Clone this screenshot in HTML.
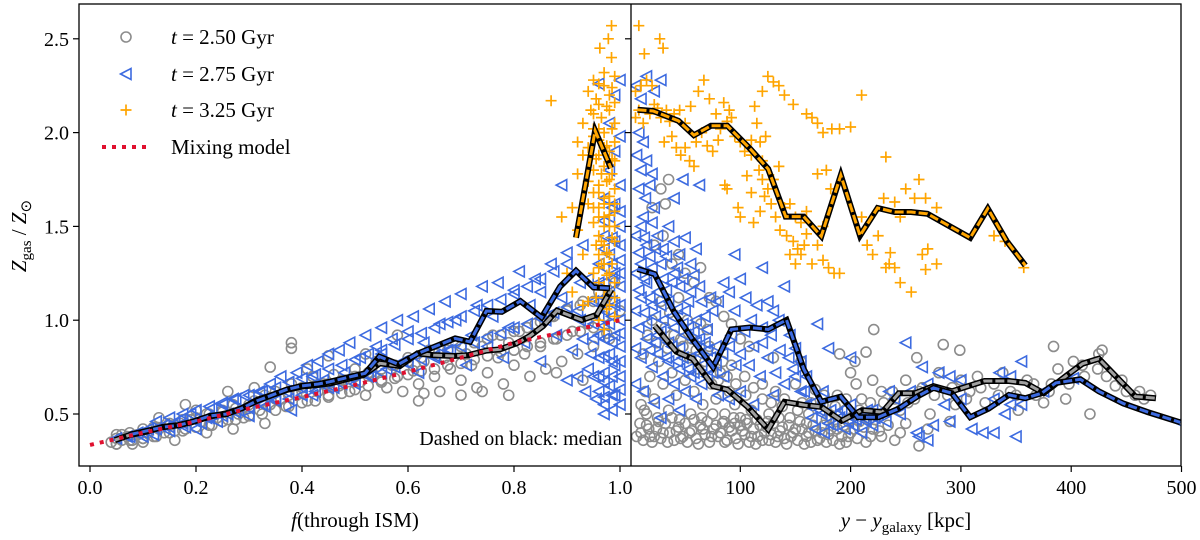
<!DOCTYPE html>
<html><head><meta charset="utf-8"><style>
body{margin:0;background:#fff;}
svg{display:block;font-family:"Liberation Serif",serif;}
</style></head><body>
<svg id="chart" width="1200" height="540" viewBox="0 0 1200 540">
<defs>
<clipPath id="clipL"><rect x="79" y="4" width="552" height="462"/></clipPath>
<clipPath id="clipR"><rect x="631" y="4" width="550" height="462"/></clipPath>
</defs>
<g id="left" clip-path="url(#clipL)"></g>
<g id="right" clip-path="url(#clipR)"></g>
<g id="axes"></g>
</svg>
<script>
// ---- data ----
const leftXTicks=[0,0.2,0.4,0.6,0.8,1.0];
const leftXTickLabels=["0.0","0.2","0.4","0.6","0.8","1.0"];
const rightXTicks=[100,200,300,400,500];
const rightXTickLabels=["100","200","300","400","500"];
const yTicks=[0.5,1.0,1.5,2.0,2.5];
const yTickLabels=["0.5","1.0","1.5","2.0","2.5"];

const mixF=[0,0.1,0.2,0.3,0.4,0.5,0.6,0.7,0.8,0.9,1.0];
const mixZ=[0.335,0.40,0.46,0.53,0.59,0.655,0.725,0.80,0.88,0.94,1.0];

const medLeftGrayF=[0.047,0.075,0.107,0.138,0.167,0.195,0.226,0.258,0.286,0.315,0.343,0.371,0.399,0.431,0.453,0.516,0.547,0.585,0.618,0.648,0.686,0.714,0.748,0.774,0.805,0.830,0.855,0.881,0.902,0.928,0.956,0.984];
const medLeftGrayZ=[0.361,0.388,0.406,0.432,0.441,0.459,0.486,0.504,0.530,0.575,0.601,0.628,0.646,0.655,0.663,0.708,0.770,0.756,0.823,0.814,0.809,0.814,0.838,0.845,0.877,0.916,0.969,1.051,1.028,1.001,1.028,1.165];
const medLeftBlueF=[0.075,0.107,0.138,0.167,0.195,0.226,0.258,0.286,0.315,0.343,0.371,0.399,0.431,0.453,0.492,0.519,0.546,0.582,0.619,0.689,0.717,0.748,0.777,0.812,0.852,0.887,0.917,0.950,0.981];
const medLeftBlueZ=[0.39,0.41,0.43,0.44,0.46,0.49,0.50,0.53,0.57,0.60,0.63,0.65,0.66,0.672,0.699,0.717,0.806,0.765,0.823,0.903,0.885,1.049,1.045,1.102,1.015,1.179,1.264,1.175,1.170];
const medLeftOrangeF=[0.917,0.953,0.983];
const medLeftOrangeZ=[1.44,2.01,1.81];

const medRightOrangeK=[6.8,20.9,43.9,57.9,73.4,88.2,108.6,125.3,141.2,157.5,173.4,191.1,208.5,224.5,240,254.8,269.6,308.4,324.4,341.7,358.4];
const medRightOrangeZ=[2.122,2.115,2.063,1.986,2.036,2.036,1.916,1.806,1.552,1.552,1.448,1.773,1.451,1.598,1.577,1.577,1.567,1.439,1.595,1.420,1.292];
const medRightBlueK=[6.8,22.4,40.1,56.8,75.4,91.9,108.6,125.3,141.9,157.5,173.4,191.1,206.7,225.2,243.7,260.3,275.2,291.8,308.4,325.1,343.6,358.4,373.2,386.1,408.3,425,447.2,469.4,499];
const medRightBlueZ=[1.273,1.246,1.043,0.896,0.749,0.951,0.961,0.951,1.001,0.740,0.565,0.593,0.483,0.483,0.529,0.593,0.639,0.611,0.483,0.529,0.602,0.584,0.611,0.666,0.685,0.621,0.556,0.510,0.455];
const medRightGrayK=[22.4,42.0,56.8,75.4,88.2,106.8,125.3,140.1,158.6,173.4,191.9,210.3,228.8,243.7,258.5,275.2,291.8,321.4,343.6,358.4,375.1,395.4,410.2,425,458.3,476.8];
const medRightGrayZ=[0.970,0.832,0.795,0.648,0.630,0.538,0.418,0.565,0.547,0.538,0.464,0.520,0.510,0.611,0.611,0.648,0.621,0.676,0.676,0.666,0.611,0.703,0.768,0.795,0.593,0.584];

const leftGray=[[0.04,0.35],[0.05,0.37],[0.05,0.34],[0.06,0.36],[0.07,0.38],[0.08,0.36],[0.09,0.39],[0.10,0.37],[0.11,0.40],[0.12,0.38],[0.13,0.42],[0.14,0.40],[0.15,0.44],[0.16,0.41],[0.17,0.45],[0.18,0.42],[0.19,0.47],[0.20,0.43],[0.21,0.46],[0.22,0.50],[0.23,0.44],[0.24,0.48],[0.25,0.52],[0.26,0.47],[0.27,0.55],[0.28,0.50],[0.29,0.48],[0.30,0.53],[0.31,0.57],[0.32,0.52],[0.33,0.60],[0.34,0.55],[0.35,0.62],[0.36,0.58],[0.37,0.54],[0.38,0.66],[0.39,0.60],[0.40,0.64],[0.41,0.57],[0.42,0.70],[0.43,0.62],[0.44,0.66],[0.45,0.60],[0.46,0.71],[0.47,0.65],[0.48,0.68],[0.49,0.62],[0.50,0.74],[0.51,0.67],[0.52,0.60],[0.53,0.72],[0.54,0.78],[0.55,0.68],[0.56,0.64],[0.57,0.76],[0.58,0.70],[0.59,0.62],[0.60,0.80],[0.61,0.73],[0.62,0.66],[0.63,0.78],[0.64,0.84],[0.65,0.70],[0.66,0.62],[0.67,0.80],[0.68,0.74],[0.69,0.88],[0.70,0.68],[0.71,0.82],[0.72,0.76],[0.73,0.64],[0.74,0.86],[0.75,0.72],[0.76,0.92],[0.77,0.80],[0.78,0.66],[0.79,0.88],[0.80,0.76],[0.81,0.94],[0.82,0.82],[0.83,0.70],[0.84,0.98],[0.85,0.86],[0.86,0.74],[0.87,1.02],[0.88,0.90],[0.89,0.78],[0.90,1.06],[0.91,0.94],[0.92,0.82],[0.93,1.10],[0.94,0.98],[0.95,0.86],[0.96,1.15],[0.97,1.02],[0.98,0.90],[0.99,1.20],[1.00,1.05],[0.18,0.55],[0.20,0.52],[0.13,0.48],[0.34,0.75],[0.31,0.64],[0.26,0.62],[0.52,0.82],[0.41,0.74],[0.38,0.88],[0.38,0.85],[0.45,0.81],[0.62,0.57],[0.70,0.60],[0.63,0.61],[0.74,0.62],[0.79,0.60],[0.93,0.68],[0.58,0.92],[0.88,0.72],[0.27,0.42],[0.33,0.45],[0.22,0.40],[0.16,0.36],[0.06,0.39],[0.08,0.34],[0.10,0.35],[0.12,0.43]];
const leftGrayDense=[[0.05,0.34],[0.05,0.39],[0.075,0.36],[0.075,0.40],[0.1,0.37],[0.1,0.42],[0.125,0.38],[0.125,0.43],[0.15,0.40],[0.15,0.45],[0.175,0.41],[0.175,0.47],[0.2,0.43],[0.2,0.48],[0.225,0.44],[0.225,0.50],[0.25,0.46],[0.25,0.51],[0.275,0.47],[0.275,0.53],[0.3,0.49],[0.3,0.55],[0.325,0.50],[0.325,0.57],[0.35,0.52],[0.35,0.58],[0.375,0.54],[0.375,0.60],[0.4,0.56],[0.4,0.62],[0.425,0.57],[0.425,0.64],[0.45,0.59],[0.45,0.66],[0.475,0.61],[0.475,0.68],[0.5,0.63],[0.5,0.70],[0.525,0.65],[0.525,0.72],[0.55,0.67],[0.55,0.74],[0.575,0.69],[0.575,0.76],[0.6,0.71],[0.6,0.78],[0.625,0.73],[0.625,0.80],[0.65,0.74],[0.65,0.82],[0.675,0.76],[0.675,0.84],[0.7,0.77],[0.7,0.86],[0.725,0.79],[0.725,0.88],[0.75,0.81],[0.75,0.90],[0.775,0.83],[0.775,0.92],[0.8,0.84],[0.8,0.94],[0.825,0.86],[0.825,0.96],[0.85,0.88],[0.85,0.99],[0.875,0.90],[0.875,1.02],[0.9,0.92],[0.9,1.05],[0.925,0.94],[0.925,1.08],[0.95,0.96],[0.95,1.10],[0.975,0.93],[0.975,1.12]];
const leftBlue=[[0.07,0.38],[0.09,0.40],[0.11,0.42],[0.12,0.39],[0.14,0.44],[0.15,0.41],[0.17,0.47],[0.18,0.43],[0.19,0.50],[0.21,0.45],[0.22,0.48],[0.23,0.53],[0.24,0.46],[0.25,0.55],[0.26,0.50],[0.27,0.58],[0.28,0.52],[0.29,0.60],[0.30,0.49],[0.31,0.56],[0.32,0.62],[0.33,0.54],[0.34,0.66],[0.35,0.58],[0.36,0.70],[0.37,0.62],[0.38,0.52],[0.39,0.72],[0.40,0.64],[0.41,0.76],[0.42,0.60],[0.43,0.78],[0.44,0.68],[0.45,0.82],[0.46,0.64],[0.47,0.84],[0.48,0.72],[0.49,0.88],[0.50,0.66],[0.51,0.80],[0.52,0.92],[0.53,0.70],[0.54,0.86],[0.55,0.96],[0.56,0.74],[0.57,0.90],[0.58,1.00],[0.59,0.78],[0.60,0.94],[0.61,1.02],[0.62,0.72],[0.63,0.88],[0.64,1.06],[0.65,0.80],[0.66,0.98],[0.67,1.10],[0.68,0.84],[0.69,1.00],[0.70,1.14],[0.71,0.76],[0.72,0.92],[0.73,1.08],[0.74,1.18],[0.75,0.86],[0.76,1.02],[0.77,1.20],[0.78,0.80],[0.79,0.96],[0.80,1.16],[0.81,1.26],[0.82,0.88],[0.83,1.08],[0.84,1.22],[0.85,0.78],[0.86,1.00],[0.87,1.30],[0.88,0.92],[0.89,1.12],[0.90,1.36],[0.91,0.84],[0.92,1.05],[0.93,1.40],[0.94,0.74],[0.89,1.72],[0.90,0.68],[0.94,1.22],[0.95,0.98],[0.96,0.62],[0.96,0.80],[0.96,1.10],[0.96,1.30],[0.97,0.55],[0.97,0.72],[0.97,0.90],[0.97,1.05],[0.97,1.20],[0.97,1.45],[0.97,1.65],[0.98,0.65],[0.98,0.82],[0.98,0.98],[0.98,1.15],[0.98,1.35],[0.98,1.55],[0.98,1.80],[0.98,2.05],[0.99,0.60],[0.99,0.76],[0.99,0.92],[0.99,1.08],[0.99,1.25],[0.99,1.42],[0.99,1.62],[0.99,1.90],[0.99,2.20],[1.00,0.70],[1.00,0.86],[1.00,1.00],[1.00,1.18],[1.00,1.32],[1.00,1.50],[1.00,1.72],[1.00,1.98],[1.00,2.28],[0.96,2.26],[0.95,0.70],[0.05,0.37],[0.10,0.38],[0.16,0.45],[0.20,0.42],[0.42,0.70],[0.55,0.82],[0.66,0.86],[0.85,1.15],[0.92,0.70]];
const leftBlueDense=[[0.075,0.38],[0.1,0.40],[0.125,0.42],[0.125,0.46],[0.15,0.43],[0.15,0.48],[0.175,0.45],[0.175,0.50],[0.2,0.46],[0.2,0.52],[0.225,0.48],[0.225,0.54],[0.25,0.49],[0.25,0.56],[0.275,0.51],[0.275,0.58],[0.3,0.53],[0.3,0.60],[0.325,0.55],[0.325,0.62],[0.35,0.57],[0.35,0.64],[0.375,0.58],[0.375,0.67],[0.4,0.60],[0.4,0.69],[0.425,0.62],[0.425,0.71],[0.45,0.64],[0.45,0.74],[0.475,0.66],[0.475,0.76],[0.5,0.68],[0.5,0.79],[0.525,0.70],[0.525,0.82],[0.55,0.72],[0.55,0.84],[0.575,0.75],[0.575,0.87],[0.6,0.77],[0.6,0.90],[0.625,0.79],[0.625,0.93],[0.65,0.81],[0.65,0.96],[0.675,0.84],[0.675,0.99],[0.7,0.86],[0.7,1.02],[0.725,0.88],[0.725,1.05],[0.75,0.91],[0.75,1.08],[0.775,0.93],[0.775,1.11],[0.8,0.96],[0.8,1.14],[0.825,0.98],[0.825,1.18],[0.85,1.01],[0.85,1.22],[0.875,1.04],[0.875,1.26],[0.9,1.07],[0.9,1.30],[0.925,1.00],[0.925,1.20],[0.95,0.90],[0.95,1.10],[0.97,0.50],[0.97,0.59],[0.97,0.67],[0.97,0.81],[0.97,0.97],[0.97,1.12],[0.97,1.28],[0.97,1.38],[0.97,1.53],[0.985,0.52],[0.985,0.60],[0.985,0.70],[0.985,0.78],[0.985,0.88],[0.985,1.02],[0.985,1.10],[0.985,1.22],[0.985,1.30],[0.985,1.44],[0.985,1.60],[1.0,0.55],[1.0,0.63],[1.0,0.78],[1.0,0.93],[1.0,1.08],[1.0,1.25],[1.0,1.40],[1.0,1.58],[0.96,0.70],[0.96,0.92],[0.96,1.02],[0.96,1.20],[0.955,0.58],[0.945,0.82],[0.935,0.62],[0.93,0.90]];
const leftOrange=[[0.984,2.57],[0.978,2.50],[0.962,2.45],[0.984,2.40],[0.87,2.17],[0.94,2.22],[0.95,2.28],[0.97,2.25],[0.99,2.30],[0.93,2.05],[0.95,2.10],[0.96,2.15],[0.97,2.00],[0.98,2.12],[0.99,2.05],[0.92,1.95],[0.94,1.92],[0.95,1.98],[0.96,1.88],[0.97,1.82],[0.98,1.90],[0.99,1.95],[0.95,1.80],[0.96,1.72],[0.97,1.65],[0.98,1.75],[0.99,1.70],[0.96,1.60],[0.97,1.55],[0.98,1.50],[0.99,1.58],[0.96,1.45],[0.97,1.40],[0.98,1.35],[0.99,1.42],[0.97,1.30],[0.98,1.25],[0.99,1.20],[0.96,1.20],[0.97,1.12],[0.98,1.08],[0.99,1.02],[0.96,1.00],[0.97,0.95],[0.91,1.60],[0.92,1.48],[0.93,1.35],[0.90,1.25],[0.91,1.15],[0.93,1.08],[0.89,1.55],[0.94,1.62],[0.92,1.78],[0.95,1.52],[0.96,2.02],[0.98,2.20],[0.94,1.10],[0.95,1.25],[0.96,1.35],[0.97,1.92],[0.98,1.62],[0.99,1.85],[0.95,1.68],[0.93,1.88]];
const leftOrangeDense=[[0.955,2.18],[0.965,2.08],[0.975,2.14],[0.985,2.02],[0.96,1.96],[0.975,1.93],[0.985,1.86],[0.955,1.86],[0.965,1.78],[0.975,1.74],[0.985,1.78],[0.96,1.68],[0.97,1.62],[0.98,1.66],[0.99,1.62],[0.96,1.55],[0.97,1.50],[0.98,1.56],[0.99,1.50],[0.965,1.42],[0.975,1.36],[0.985,1.44],[0.965,1.30],[0.975,1.24],[0.985,1.30],[0.97,1.18],[0.98,1.15],[0.975,1.06],[0.99,1.12],[0.99,2.16],[0.945,2.12],[0.95,2.02],[0.96,2.26],[0.97,2.32],[0.985,2.24],[0.94,1.74],[0.95,1.60],[0.955,1.40],[0.96,1.28],[0.955,1.12]];

const rightGray=[[10,0.40],[12,0.36],[15,0.44],[18,0.38],[20,0.35],[24,0.42],[28,0.37],[32,0.45],[36,0.40],[40,0.36],[44,0.43],[48,0.38],[52,0.35],[56,0.41],[60,0.37],[64,0.44],[68,0.39],[72,0.35],[76,0.42],[80,0.38],[84,0.45],[88,0.36],[92,0.41],[96,0.37],[100,0.44],[104,0.39],[108,0.35],[112,0.42],[116,0.38],[120,0.36],[124,0.43],[128,0.39],[132,0.35],[136,0.41],[140,0.37],[144,0.44],[148,0.40],[152,0.36],[156,0.42],[160,0.38],[164,0.35],[168,0.41],[172,0.37],[176,0.44],[180,0.39],[184,0.36],[188,0.42],[192,0.38],[196,0.35],[200,0.40],[206,0.37],[212,0.43],[218,0.38],[226,0.41],[240,0.36],[262,0.33],[10,0.55],[14,0.62],[18,0.70],[22,0.58],[26,0.78],[30,0.66],[34,0.85],[38,0.72],[42,0.60],[46,0.90],[50,0.68],[54,0.80],[58,0.62],[62,0.74],[66,0.55],[70,0.95],[74,0.66],[78,0.58],[82,0.72],[86,0.50],[90,0.62],[95,0.55],[100,0.48],[105,0.60],[110,0.52],[115,0.47],[120,0.58],[126,0.50],[132,0.62],[138,0.54],[145,0.48],[150,0.66],[156,0.56],[162,0.50],[168,0.63],[175,0.55],[182,0.48],[188,0.60],[195,0.52],[200,0.72],[205,0.66],[210,0.58],[215,0.50],[220,0.68],[230,0.56],[238,0.62],[245,0.52],[250,0.68],[258,0.58],[265,0.64],[272,0.50],[280,0.72],[288,0.60],[295,0.55],[300,0.68],[308,0.62],[315,0.70],[322,0.56],[330,0.66],[338,0.72],[345,0.62],[352,0.52],[360,0.68],[368,0.60],[375,0.56],[382,0.66],[388,0.74],[395,0.58],[402,0.78],[410,0.76],[417,0.50],[425,0.82],[432,0.70],[440,0.65],[450,0.62],[458,0.60],[466,0.58],[472,0.60],[20,1.60],[28,1.70],[35,1.75],[32,1.62],[22,1.40],[30,1.45],[38,1.30],[44,1.35],[50,1.25],[58,1.20],[64,1.28],[72,1.12],[78,1.10],[85,1.02],[92,0.98],[100,0.90],[108,0.86],[130,0.80],[155,0.78],[190,0.82],[214,0.83],[260,0.80],[204,0.78],[384,0.86],[428,0.84],[284,0.87],[221,0.95],[299,0.84],[15,0.50],[25,0.48],[35,0.52],[45,0.47],[55,0.50],[65,0.48],[75,0.50],[85,0.46],[95,0.45],[105,0.47],[125,0.46],[135,0.48],[160,0.45],[178,0.47],[198,0.46],[222,0.47],[250,0.45],[270,0.42],[290,0.46]];
const rightGrayDense=[[6,0.38],[9,0.45],[13,0.52],[17,0.42],[22,0.38],[26,0.46],[30,0.40],[34,0.35],[38,0.48],[42,0.41],[46,0.37],[50,0.45],[54,0.40],[58,0.47],[62,0.34],[66,0.42],[70,0.46],[74,0.38],[78,0.44],[82,0.40],[86,0.35],[90,0.43],[94,0.48],[98,0.34],[102,0.41],[106,0.45],[110,0.38],[114,0.34],[118,0.44],[122,0.40],[126,0.36],[130,0.45],[134,0.38],[138,0.43],[142,0.34],[146,0.38],[150,0.42],[154,0.46],[158,0.34],[162,0.40],[166,0.44],[170,0.36],[174,0.40],[178,0.35],[182,0.42],[186,0.46],[190,0.34],[194,0.44],[198,0.38],[203,0.42],[208,0.46],[214,0.35],[220,0.42],[228,0.38],[234,0.44],[245,0.40],[12,0.82],[16,0.92],[20,1.00],[24,0.88],[28,1.10],[32,0.96],[36,1.04],[40,0.92],[44,1.12],[48,0.86],[52,1.00],[56,0.90],[60,0.84],[64,0.98],[68,0.78],[72,0.86],[76,0.80],[80,0.68],[84,0.78],[88,0.70],[92,0.76],[96,0.66],[104,0.70],[112,0.64],[120,0.66],[128,0.56],[140,0.58],[152,0.52],[164,0.56],[176,0.60],[186,0.54],[196,0.58],[208,0.52],[218,0.56],[228,0.62],[240,0.58],[252,0.56],[262,0.62],[276,0.60],[292,0.64],[305,0.58],[318,0.64],[334,0.60],[350,0.60],[366,0.66],[380,0.62],[398,0.66],[412,0.70],[424,0.74],[446,0.68],[462,0.62]];
const rightBlue=[[5,2.25],[10,2.18],[15,2.30],[22,2.22],[28,2.28],[8,2.0],[12,1.95],[6,1.88],[10,1.80],[15,1.85],[20,1.78],[8,1.70],[14,1.65],[18,1.72],[22,1.60],[12,1.55],[48,1.75],[63,1.72],[40,1.65],[5,1.45],[10,1.50],[15,1.40],[20,1.52],[25,1.45],[30,1.38],[35,1.50],[40,1.42],[45,1.35],[50,1.44],[55,1.30],[60,1.38],[5,1.25],[10,1.30],[15,1.20],[20,1.28],[25,1.15],[30,1.22],[35,1.10],[40,1.25],[45,1.18],[50,1.05],[55,1.15],[60,1.00],[65,1.10],[70,0.95],[75,1.05],[5,1.05],[10,1.12],[15,0.98],[20,1.08],[25,0.92],[30,1.00],[35,0.88],[40,0.96],[45,0.85],[50,0.92],[55,0.80],[60,0.88],[65,0.76],[70,0.84],[75,0.72],[5,0.85],[10,0.80],[15,0.90],[20,0.75],[25,0.82],[30,0.70],[35,0.78],[40,0.66],[45,0.74],[50,0.62],[55,0.70],[60,0.58],[65,0.66],[80,0.60],[85,0.70],[90,0.58],[5,0.66],[12,0.62],[22,0.56],[35,0.58],[45,0.52],[28,0.48],[80,1.10],[85,1.20],[90,1.15],[95,1.05],[100,1.22],[105,1.12],[110,1.00],[115,1.08],[120,0.96],[125,1.10],[130,1.05],[135,1.00],[140,1.18],[145,0.92],[150,0.85],[155,0.78],[92,0.92],[100,0.82],[108,0.76],[118,0.70],[125,0.80],[132,0.72],[140,0.66],[148,0.74],[155,0.62],[160,0.70],[95,1.35],[120,1.28],[100,0.62],[112,0.55],[130,0.60],[170,0.98],[180,0.85],[160,0.55],[175,0.62],[165,0.48],[172,0.52],[180,0.45],[188,0.50],[195,0.42],[200,0.55],[205,0.47],[210,0.40],[215,0.52],[220,0.44],[225,0.50],[232,0.46],[240,0.58],[245,0.50],[250,0.88],[254,0.62],[260,0.40],[265,0.75],[270,0.66],[275,0.44],[285,0.55],[290,0.46],[300,0.58],[310,0.42],[320,0.40],[330,0.40],[335,0.72],[340,0.50],[345,0.70],[350,0.38],[355,0.55],[355,0.78],[200,0.80],[235,0.62],[262,0.38],[270,0.36],[280,0.72],[300,0.68],[330,0.58],[345,0.55],[290,0.70],[375,0.62],[402,0.69],[499,0.455]];
const rightBlueDense=[[8,1.36],[13,1.44],[18,1.34],[23,1.38],[28,1.30],[33,1.34],[38,1.20],[43,1.28],[48,1.22],[53,1.10],[58,1.24],[63,1.18],[68,1.02],[73,1.12],[8,1.16],[13,1.22],[18,1.12],[23,1.02],[28,1.08],[33,1.16],[38,1.02],[43,1.06],[48,0.98],[53,0.96],[58,0.94],[63,0.90],[68,0.88],[73,0.80],[78,0.86],[8,0.96],[13,1.04],[18,0.84],[23,0.88],[28,0.94],[33,0.80],[38,0.86],[43,0.78],[48,0.80],[53,0.74],[58,0.72],[63,0.82],[70,0.70],[78,0.76],[84,0.82],[90,0.86],[96,0.76],[104,0.94],[112,0.86],[120,0.88],[128,0.92],[136,0.84],[144,0.80],[150,0.70],[158,0.62],[166,0.56],[174,0.50],[182,0.52],[190,0.48],[198,0.46],[206,0.50],[214,0.46],[222,0.48],[230,0.52],[168,0.42],[176,0.40],[184,0.44],[192,0.52],[202,0.44],[212,0.48],[220,0.52]];
const rightOrange=[[8,2.57],[13,2.42],[27,2.50],[30,2.45],[5,2.22],[10,2.25],[15,2.28],[20,2.25],[5,2.08],[8,2.12],[12,2.05],[18,2.10],[22,2.15],[25,2.13],[28,2.08],[33,2.12],[36,2.06],[40,2.10],[45,2.12],[50,2.05],[55,2.14],[31,1.95],[38,1.98],[42,1.92],[46,1.88],[50,1.92],[60,1.95],[65,2.00],[70,1.93],[75,1.90],[80,1.96],[62,2.22],[67,2.28],[72,2.18],[78,2.10],[82,2.02],[88,2.06],[92,2.08],[95,1.98],[100,1.95],[90,2.12],[85,2.16],[86,1.72],[88,1.70],[104,1.90],[110,1.96],[115,2.05],[110,1.88],[118,1.95],[120,1.85],[123,1.98],[113,2.14],[120,2.22],[125,2.30],[130,2.27],[135,2.25],[140,2.20],[148,2.15],[160,2.10],[165,2.08],[170,2.05],[175,2.00],[183,2.02],[190,2.02],[200,2.03],[210,2.20],[117,1.80],[120,1.75],[125,1.70],[130,1.75],[135,1.82],[128,1.62],[132,1.55],[140,1.60],[145,1.62],[150,1.55],[155,1.52],[160,1.58],[136,1.48],[142,1.45],[148,1.42],[152,1.38],[155,1.35],[160,1.46],[165,1.30],[170,1.40],[175,1.32],[180,1.28],[185,1.25],[190,1.25],[145,1.35],[150,1.30],[158,1.40],[182,1.70],[178,1.80],[175,1.50],[210,1.55],[215,1.40],[220,1.35],[225,1.45],[230,1.65],[232,1.87],[240,1.63],[245,1.55],[250,1.70],[258,1.65],[262,1.75],[268,1.65],[235,1.30],[240,1.28],[245,1.20],[255,1.15],[265,1.35],[270,1.38],[268,1.27],[278,1.30],[278,1.60],[330,1.45],[340,1.42],[357,1.28],[232,1.28],[236,1.36],[170,1.78],[106,1.77],[58,1.82],[54,1.85],[100,1.55],[98,1.60],[112,1.52],[118,1.58],[122,1.66],[110,1.68]];

// ---- scales ----
const xL=f=>90+530*f;
const xR=k=>630+1.103*k;
const yS=v=>414-(v-0.5)*187.6;
const NS="http://www.w3.org/2000/svg";
function mk(tag,attrs,parent){const e=document.createElementNS(NS,tag);for(const k in attrs)e.setAttribute(k,attrs[k]);parent.appendChild(e);return e;}
const gL=document.getElementById('left'),gR=document.getElementById('right'),gA=document.getElementById('axes');
const GRAY="#8c8c8c",BLUE="#3d6be0",ORANGE="#ffa500";

function circles(pts,xf,parent,name){
  const g=mk('g',{},parent);
  
  
  pts.forEach(p=>{const c=mk('circle',{cx:xf(p[0]),cy:yS(p[1]),r:5,fill:'none',stroke:GRAY,'stroke-width':1.6},g);
    
    });
}
function tris(pts,xf,parent,name){
  const g=mk('g',{},parent);
  
  
  pts.forEach(p=>{const x=xf(p[0]),y=yS(p[1]);
    const t=mk('polygon',{points:`${x-5.5},${y} ${x+5},${y-5.5} ${x+5},${y+5.5}`,fill:'none',stroke:BLUE,'stroke-width':1.6},g);
    
    });
}
function pluses(pts,xf,parent,name){
  const g=mk('g',{},parent);
  
  
  pts.forEach(p=>{const x=xf(p[0]),y=yS(p[1]);
    const t=mk('path',{d:`M${x-5.5},${y}H${x+5.5}M${x},${y-5.5}V${y+5.5}`,stroke:ORANGE,'stroke-width':1.7,fill:'none'},g);
    
    });
}
function median(xs,zs,xf,parent,col,name){
  const d=xs.map((x,i)=>(i?'L':'M')+xf(x).toFixed(1)+','+yS(zs[i]).toFixed(1)).join('');
  const g=mk('g',{},parent);
  
  
  mk('path',{d:d,stroke:'#000','stroke-width':6,fill:'none'},g);
  mk('path',{d:d,stroke:col,'stroke-width':3,fill:'none','stroke-dasharray':'9,3'},g);
}

circles(leftGray.concat(leftGrayDense),xL,gL,'left-gray-scatter');
tris(leftBlue.concat(leftBlueDense),xL,gL,'left-blue-scatter');
pluses(leftOrange.concat(leftOrangeDense),xL,gL,'left-orange-scatter');
median(medLeftGrayF,medLeftGrayZ,xL,gL,'#a0a0a0','left-gray-median');
median(medLeftBlueF,medLeftBlueZ,xL,gL,BLUE,'left-blue-median');
median(medLeftOrangeF,medLeftOrangeZ,xL,gL,ORANGE,'left-orange-median');
{const d=mixF.map((f,i)=>(i?'L':'M')+xL(f)+','+yS(mixZ[i])).join('');
 const m=mk('path',{d:d,stroke:'#e0102f','stroke-width':4,fill:'none','stroke-dasharray':'4,6'},gL);
 
 }

circles(rightGray.concat(rightGrayDense),xR,gR,'right-gray-scatter');
tris(rightBlue.concat(rightBlueDense),xR,gR,'right-blue-scatter');
pluses(rightOrange,xR,gR,'right-orange-scatter');
median(medRightGrayK,medRightGrayZ,xR,gR,'#a0a0a0','right-gray-median');
median(medRightBlueK,medRightBlueZ,xR,gR,BLUE,'right-blue-median');
median(medRightOrangeK,medRightOrangeZ,xR,gR,ORANGE,'right-orange-median');

const fr=mk('rect',{x:79,y:4,width:1102,height:462,fill:'none',stroke:'#000','stroke-width':1.3},gA);


const dv=mk('line',{x1:631,y1:4,x2:631,y2:466,stroke:'#000','stroke-width':1.3},gA);



yTicks.forEach((v,i)=>{
  mk('line',{x1:73,x2:79,y1:yS(v),y2:yS(v),stroke:'#000','stroke-width':1.2},gA);
  mk('line',{x1:625,x2:631,y1:yS(v),y2:yS(v),stroke:'#000','stroke-width':1.2},gA);
  const t=mk('text',{x:69,y:yS(v)+7,'text-anchor':'end','font-size':20},gA);
  t.textContent=yTickLabels[i];
  
  
});
leftXTicks.forEach((f,i)=>{
  mk('line',{x1:xL(f),x2:xL(f),y1:466,y2:472,stroke:'#000','stroke-width':1.2},gA);
  const t=mk('text',{x:xL(f),y:494,'text-anchor':'middle','font-size':20},gA);
  t.textContent=leftXTickLabels[i];
  
  
});
rightXTicks.forEach((k,i)=>{
  mk('line',{x1:xR(k),x2:xR(k),y1:466,y2:472,stroke:'#000','stroke-width':1.2},gA);
  const t=mk('text',{x:xR(k),y:494,'text-anchor':'middle','font-size':20},gA);
  t.textContent=rightXTickLabels[i];
  
  
});
</script>
<svg width="1200" height="540" style="position:absolute;left:0;top:0;font-family:'Liberation Serif',serif">
<text x="355" y="527" text-anchor="middle" font-size="21"><tspan font-style="italic">f</tspan>(through ISM)</text>
<text x="906" y="527" text-anchor="middle" font-size="21"><tspan font-style="italic">y</tspan> − <tspan font-style="italic">y</tspan><tspan font-size="15" dy="5">galaxy</tspan><tspan dy="-5"> [kpc]</tspan></text>
<text transform="translate(26,236) rotate(-90)" text-anchor="middle" font-size="21"><tspan font-style="italic">Z</tspan><tspan font-size="15" dy="5">gas</tspan><tspan dy="-5"> / </tspan><tspan font-style="italic">Z</tspan><tspan font-size="15" dy="5">⊙</tspan></text>
<text x="622" y="445" text-anchor="end" font-size="20">Dashed on black: median</text>
<g>
<circle cx="126" cy="37" r="5" fill="none" stroke="#8c8c8c" stroke-width="1.6"/>
<text x="171" y="44" font-size="21"><tspan font-style="italic">t</tspan> = 2.50 Gyr</text>
<polygon points="120.5,74 131,68.5 131,79.5" fill="none" stroke="#3d6be0" stroke-width="1.6"/>
<text x="171" y="81" font-size="21"><tspan font-style="italic">t</tspan> = 2.75 Gyr</text>
<path d="M120.5,110H131.5M126,104.5V115.5" stroke="#ffa500" stroke-width="1.7"/>
<text x="171" y="117" font-size="21"><tspan font-style="italic">t</tspan> = 3.25 Gyr</text>
<line x1="102" y1="147" x2="152" y2="147" stroke="#e0102f" stroke-width="4" stroke-dasharray="4,6"/>
<text x="171" y="154" font-size="21">Mixing model</text>
</g>
</svg>
</body></html>
